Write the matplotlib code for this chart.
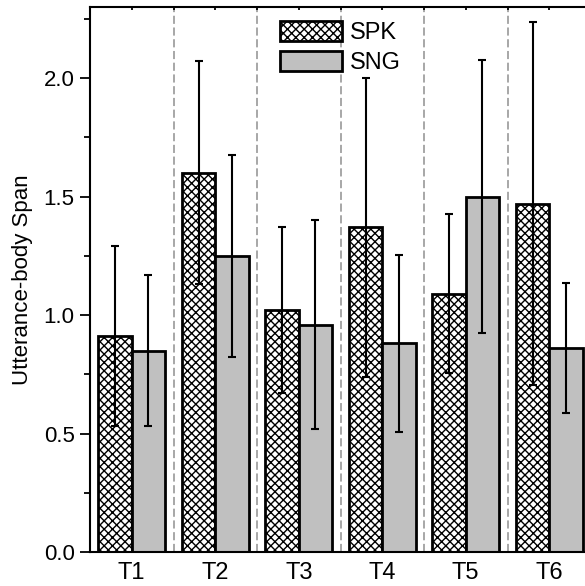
import numpy as np
import matplotlib.pyplot as plt

plt.rcParams['font.family'] = ['Liberation Sans', 'DejaVu Sans']
plt.rcParams['hatch.linewidth'] = 1.0

tasks = ['T1', 'T2', 'T3', 'T4', 'T5', 'T6']
spk_mean = [0.91, 1.60, 1.02, 1.37, 1.09, 1.47]
spk_err = [0.38, 0.47, 0.35, 0.63, 0.335, 0.765]
sng_mean = [0.85, 1.25, 0.96, 0.88, 1.50, 0.86]
sng_err = [0.32, 0.425, 0.44, 0.375, 0.575, 0.275]

fig = plt.figure(figsize=(5.85, 5.86), dpi=100)
ax = fig.add_axes([90/585, 34/586, 501/585, 545/586])

x = np.arange(len(tasks))
w = 0.4
ax.bar(x - w/2, spk_mean, w, color='white', edgecolor='black', hatch='xxxx',
       linewidth=2.0, label='SPK', zorder=2)
ax.bar(x + w/2, sng_mean, w, color='#c0c0c0', edgecolor='black',
       linewidth=2.0, label='SNG', zorder=2)
ax.errorbar(x - w/2, spk_mean, yerr=spk_err, fmt='none', ecolor='black',
            elinewidth=1.5, capsize=3, capthick=1.5, zorder=3)
ax.errorbar(x + w/2, sng_mean, yerr=sng_err, fmt='none', ecolor='black',
            elinewidth=1.5, capsize=3, capthick=1.5, zorder=3)

# dashed separators between groups
for s in x[:-1] + 0.5:
    ax.axvline(s, color='#a0a0a0', linestyle=(0, (4.5, 2)), linewidth=1.3, zorder=1)

ax.set_xlim(-0.5, 5.5)
ax.set_ylim(0, 2.30)
ax.set_xticks(x)
ax.set_xticklabels(tasks)
ax.set_yticks([0.0, 0.5, 1.0, 1.5, 2.0])
ax.set_yticks(np.arange(0.25, 2.3, 0.5), minor=True)
ax.set_xticks(x[:-1] + 0.5, minor=True)
ax.tick_params(axis='y', which='major', direction='out', length=7, width=1.3,
               labelsize=16, pad=4)
ax.tick_params(axis='y', which='minor', direction='out', length=4, width=1.3)
ax.tick_params(axis='x', which='both', bottom=False, top=True, direction='in',
               length=2, width=1.3, labelsize=17, pad=7)
ax.set_ylabel('Utterance-body Span', fontsize=16, labelpad=8)

for sp in ax.spines.values():
    sp.set_linewidth(1.5)

ax.legend(loc='upper center', bbox_to_anchor=(0.5, 1.0), frameon=False,
          fontsize=17, handlelength=2.6, handleheight=0.9, handletextpad=0.35,
          labelspacing=0.3, borderaxespad=0.2)

fig.savefig('out.png', dpi=100)
